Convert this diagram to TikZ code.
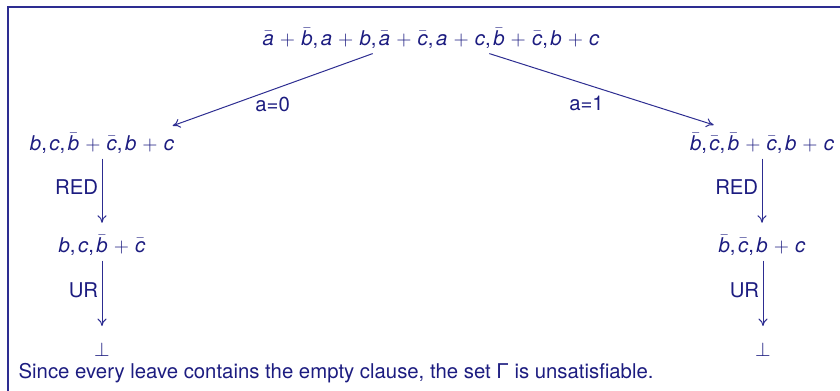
\documentclass[tikz,border=0pt]{standalone}
\usepackage{fontspec}
\setmainfont{TeX Gyre Heros}
\usetikzlibrary{arrows.meta}
\definecolor{navy}{RGB}{28,28,128}
\definecolor{lineblue}{RGB}{45,45,145}
\newcommand\va[1]{\textit{#1}}
\newcommand\vn[1]{$\bar{\hbox{\textit{#1}}}$}
\newcommand\pl{\kern1pt${}+{}$\kern1pt}
\newcommand\cm{,\kern1.5pt}
\tikzset{
  every node/.style={text=navy, font=\fontsize{12.2}{14}\selectfont, inner sep=2pt},
  arr/.style={draw=lineblue, line width=0.6pt, -{To[length=4.5pt,width=5.5pt]}},
  lbl/.style={inner sep=2pt}
}
\begin{document}
\begin{tikzpicture}[x=0.6pt,y=-0.6pt]
\useasboundingbox (0,0) rectangle (840,390);
\draw[lineblue, line width=1pt] (8,400) -- (8,7) -- (850,7);
\node (root) at (431,38) {\vn{a}\pl\vn{b}\cm\va{a}\pl\va{b}\cm\vn{a}\pl\vn{c}\cm\va{a}\pl\va{c}\cm\vn{b}\pl\vn{c}\cm\va{b}\pl\va{c}};
\node (L1) at (102,143) {\va{b}\cm\va{c}\cm\vn{b}\pl\vn{c}\cm\va{b}\pl\va{c}};
\node (R1) at (762,143) {\vn{b}\cm\vn{c}\cm\vn{b}\pl\vn{c}\cm\va{b}\pl\va{c}};
\node (L2) at (102,245) {\va{b}\cm\va{c}\cm\vn{b}\pl\vn{c}};
\node (R2) at (762,245) {\vn{b}\cm\vn{c}\cm\va{b}\pl\va{c}};
\node (L3) at (102,350) {$\bot$};
\node (R3) at (763,350) {$\bot$};
\node[anchor=west] (txt) at (15,373) {Since every leave contains the empty clause, the set Γ is unsatisfiable.};
\draw[arr] ([xshift=-35pt,yshift=-1pt]root.south) -- node[lbl, pos=0.5, below, yshift=-2pt] {a=0} ([xshift=-3pt,yshift=2pt]L1.north east);
\draw[arr] ([xshift=35pt,yshift=-1pt]root.south) -- node[lbl, pos=0.5, below, xshift=-9pt, yshift=-2pt] {a=1} ([xshift=-29pt,yshift=2.5pt]R1.north);
\draw[arr] ([yshift=-1pt]L2.north |- L1.south) -- node[lbl, left, yshift=2pt] {RED} ([yshift=5pt]L2.north);
\draw[arr] ([yshift=-1pt]R2.north |- R1.south) -- node[lbl, left, yshift=2pt] {RED} ([yshift=5pt]R2.north);
\draw[arr] ([yshift=-1pt]L3.north |- L2.south) -- node[lbl, left, yshift=2pt] {UR} ([yshift=8pt]L3.north);
\draw[arr] ([yshift=-1pt]R3.north |- R2.south) -- node[lbl, left, yshift=2pt] {UR} ([yshift=8pt]R3.north);
\end{tikzpicture}
\end{document}
